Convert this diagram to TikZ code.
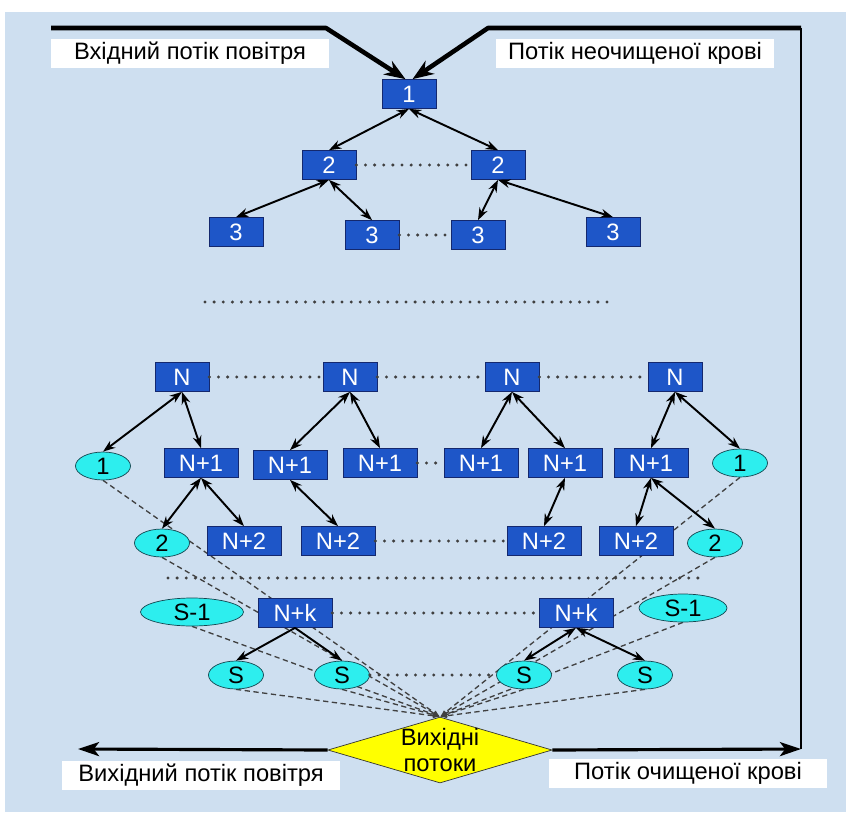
\documentclass[tikz,border=0pt]{standalone}
\usepackage{fontspec}
\setmainfont{Liberation Sans}
\usetikzlibrary{shapes.geometric,arrows.meta,backgrounds}
\definecolor{bgblue}{RGB}{206,223,240}
\definecolor{boxblue}{RGB}{30,86,200}
\definecolor{boxline}{RGB}{20,40,110}
\definecolor{cellcyan}{RGB}{45,238,238}
\definecolor{cellline}{RGB}{20,70,80}
\definecolor{flowyellow}{RGB}{255,255,0}

\begin{document}
\begin{tikzpicture}[x = 0.02cm, y = -0.02cm,
	box/.style = {draw = boxline, fill = boxblue, text = white, minimum width = 1.08cm, minimum height = 0.58cm, inner sep = 0pt, font = \fontsize{13.5}{15}\selectfont},
	wbox/.style = {box, minimum width = 1.48cm},
	cell/.style = {ellipse, draw = cellline, fill = cellcyan, minimum width = 1.1cm, minimum height = 0.56cm, inner sep = 0pt, font = \fontsize{13.5}{15}\selectfont},
	lab/.style = {fill = white, minimum width = 5.58cm, minimum height = 0.58cm, inner sep = 0pt, font = \fontsize{13.5}{15}\selectfont},
	outlet/.style = {diamond, aspect = 3.4, draw = black!80, fill = flowyellow, minimum width = 4.4cm, minimum height = 1.3cm, inner sep = 0pt, align = center, font = \fontsize{13.5}{14.5}\selectfont},
	link/.style = {{Stealth[length = 7pt, width = 5pt]}-{Stealth[length = 7pt, width = 5pt]}, line width = 1.1pt},
	down/.style = {-{Stealth[length = 7pt, width = 5pt]}, line width = 1.1pt},
	dots/.style = {line width = 1.9pt, line cap = round, dash pattern = on 0pt off 5.2pt, black!75},
	feed/.style = {dash pattern = on 3pt off 2pt, line width = 0.75pt, black!75, -{Latex[length = 4pt, width = 3pt]}},
	inflow/.style = {line width = 2.6pt, line join = round, -{Stealth[length = 12pt, width = 9pt]}},
	outflow/.style = {line width = 1.8pt, -{Stealth[length = 12pt, width = 8pt, inset = 3pt]}}]
	\useasboundingbox (0,0) rectangle (846,816);

	\node [lab] (inair) at (190,53) {Вхідний потік повітря};
	\node [lab] (inblood) at (635,53) {Потік неочищеної крові};
	\node [lab] (outair) at (201,775) {Вихідний потік повітря};
	\node [lab] (outblood) at (688,773) {Потік очищеної крові};

	\node [box] (b1) at (409,94) {1};
	\node [box] (b2a) at (329,165) {2};
	\node [box] (b2b) at (498,165) {2};
	\foreach \x/\y/\i in {236/232/a,372/235/b,478/235/c,613/232/d}{
		\node [box] (b3\i) at (\x,\y) {3};
	}

	\foreach \x/\i in {182/a,350/b,512/c,675/d}{
		\node [box] (n\i) at (\x,377) {N};
	}
	\foreach \x/\y/\i in {201/463/a,290/465/b,380/463/c,481/463/d,565/463/e,651/463/f}{
		\node [wbox] (p1\i) at (\x,\y) {N+1};
	}
	\foreach \x/\i in {244/a,338/b,544/c,636/d}{
		\node [wbox] (p2\i) at (\x,541) {N+2};
	}
	\node [wbox] (ka) at (295,613) {N+k};
	\node [wbox] (kb) at (576,613) {N+k};

	\node [cell] (e1a) at (103,466) {1};
	\node [cell] (e1b) at (740,463) {1};
	\node [cell] (e2a) at (162,543) {2};
	\node [cell] (e2b) at (715,543) {2};
	\node [cell, minimum width = 2.06cm] (sma) at (192,612) {S-1};
	\node [cell, minimum width = 1.76cm] (smb) at (683,608) {S-1};
	\foreach \x/\i in {236/a,342/b,524/c,645/d}{
		\node [cell] (s\i) at (\x,675) {S};
	}

	\node [outlet] (out) at (440,750) {Вихідні\\потоки};

	\coordinate (inL) at (51,28);
	\coordinate (bendL) at (326,28);
	\coordinate (inR) at (801,28);
	\coordinate (bendR) at (488,28);
	\coordinate (endL) at (78,749);
	\coordinate (endR) at (801,749);

	\draw [inflow] (inL) -- (bendL) -- ([xshift = -2pt]b1.north);
	\draw [inflow] (inR) -- (bendR) -- ([xshift = 2pt]b1.north);
	\draw [line width = 1.3pt] (inR) -- (endR);
	\draw [outflow] (out.west) -- (endL);
	\draw [outflow] (out.east) -- (endR);

	\draw [link] (b1.south) -- (b2a.north);
	\draw [link] (b1.south) -- (b2b.north);
	\draw [link] (b2a.south) -- (b3a.north);
	\draw [link] (b2a.south) -- (b3b.north);
	\draw [link] (b2b.south) -- (b3c.north);
	\draw [link] (b2b.south) -- (b3d.north);

	\draw [link] (na.south) -- (e1a.north);
	\draw [link] (na.south) -- (p1a.north);
	\draw [link] (nb.south) -- (p1b.north);
	\draw [link] (nb.south) -- (p1c.north);
	\draw [link] (nc.south) -- (p1d.north);
	\draw [link] (nc.south) -- (p1e.north);
	\draw [link] (nd.south) -- (p1f.north);
	\draw [link] (nd.south) -- (e1b.north);

	\draw [link] (p1a.south) -- (e2a.north);
	\draw [link] (p1a.south) -- (p2a.north);
	\draw [link] (p1b.south) -- (p2b.north);
	\draw [link] (p1e.south) -- (p2c.north);
	\draw [link] (p1f.south) -- (p2d.north);
	\draw [link] (p1f.south) -- (e2b.north);

	\draw [down] (ka.south) -- (sa.north);
	\draw [down] (ka.south) -- (sb.north);
	\draw [link] (kb.south) -- (sc.north);
	\draw [link] (kb.south) -- (sd.north);

	\draw [dots] (b2a.east) -- (b2b.west);
	\draw [dots] (b3b.east) -- (b3c.west);
	\draw [dots] (na.east) -- (nb.west);
	\draw [dots] (nb.east) -- (nc.west);
	\draw [dots] (nc.east) -- (nd.west);
	\draw [dots] (p1c.east) -- (p1d.west);
	\draw [dots] (p2b.east) -- (p2c.west);
	\draw [dots] (ka.east) -- (kb.west);
	\draw [dots] (sb.east) -- (sc.west);
	\draw [dots] (205,302) -- (615,302);
	\draw [dots] (168,578) -- (707,578);

	\begin{scope}[on background layer]
		\fill [bgblue] (5,12) rectangle (846,812);
		\foreach \c in {e1a,e2a,sma,sa,sb,e1b,e2b,smb,sc,sd}{
			\draw [feed] (\c.south) -- (out.north);
		}
	\end{scope}
\end{tikzpicture}
\end{document}
